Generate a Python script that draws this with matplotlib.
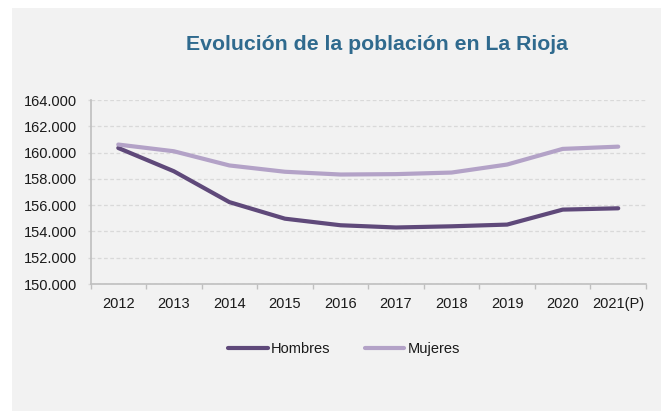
import matplotlib
matplotlib.use("Agg")
import matplotlib.pyplot as plt
from matplotlib.patches import Rectangle
from matplotlib.ticker import FixedLocator, FuncFormatter
import numpy as np

years = ["2012", "2013", "2014", "2015", "2016", "2017", "2018", "2019", "2020", "2021(P)"]
hombres = [160350, 158580, 156230, 154970, 154470, 154300, 154390, 154520, 155660, 155760]
mujeres = [160610, 160100, 159020, 158540, 158330, 158360, 158480, 159090, 160280, 160450]

plt.rcParams["font.family"] = ["Liberation Sans", "DejaVu Sans"]

fig = plt.figure(figsize=(6.61, 4.11), dpi=100, facecolor="white")
# grey chart area
fig.patches.append(Rectangle((12 / 661, 0), 1 - 12 / 661, 1 - 8 / 411,
                             transform=fig.transFigure, facecolor="#f2f2f2",
                             edgecolor="none", zorder=-10))

ax = fig.add_axes([90.5 / 661, 1 - 284 / 411, (646 - 90.5) / 661, 184 / 411])
ax.set_facecolor("none")
ax.set_zorder(2)

x = np.arange(len(years))
ax.plot(x, hombres, color="#5f497a", linewidth=3, solid_capstyle="round", label="Hombres", zorder=3)
ax.plot(x, mujeres, color="#b3a2c7", linewidth=3, solid_capstyle="round", label="Mujeres", zorder=3)

ax.set_xlim(-0.5, len(years) - 0.5)
ax.set_ylim(150000, 164000)
ax.set_yticks(np.arange(150000, 164001, 2000))
ax.yaxis.set_major_formatter(FuncFormatter(lambda v, p: f"{v:,.0f}".replace(",", ".")))

ax.set_xticks(x)
ax.set_xticklabels(years)
ax.xaxis.set_minor_locator(FixedLocator(np.arange(-0.5, len(years), 1.0)))
ax.tick_params(axis="x", which="major", length=0, pad=9, labelsize=10.5, labelcolor="#1a1a1a")
ax.tick_params(axis="x", which="minor", length=3.5, width=1, color="#bfbfbf", direction="out")
ax.tick_params(axis="y", length=2.5, width=1, color="#d9d9d9", pad=7, labelsize=10.5, labelcolor="#1a1a1a")

ax.grid(True, axis="y", color="#d9d9d9", linestyle=(0, (3, 2)), linewidth=0.9)
ax.set_axisbelow(True)
for side in ["top", "right"]:
    ax.spines[side].set_visible(False)
ax.spines["left"].set_color("#bfbfbf")
ax.spines["bottom"].set_color("#bfbfbf")
ax.spines["left"].set_linewidth(1.2)
ax.spines["bottom"].set_linewidth(1.2)

fig.text(377 / 661, 1 - 45 / 411, "Evolución de la población en La Rioja",
         ha="center", va="center", fontsize=15.3, fontweight="bold", color="#2f6a8e")

fig.legend(loc="center", bbox_to_anchor=(344 / 661, 1 - 349 / 411), ncol=2, frameon=False,
           fontsize=10.5, handlelength=2.7, handletextpad=0.2, columnspacing=2.4,
           labelcolor="#1a1a1a")

fig.savefig("out.png", dpi=100, facecolor="white")
